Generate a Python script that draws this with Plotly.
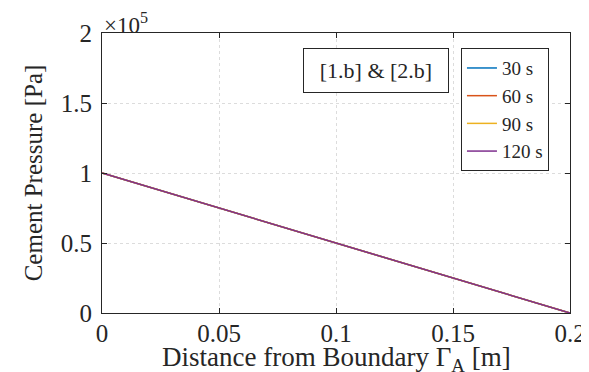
import plotly.graph_objects as go

# datos
distancia = [0.0, 0.2]
series = ["30 s", "60 s", "90 s", "120 s"]
presion = {
    "30 s": [1.0e5, 0.0],
    "60 s": [1.0e5, 0.0],
    "90 s": [1.0e5, 0.0],
    "120 s": [1.0e5, 0.0],
}
colores = ["#0072BD", "#D95319", "#EDB120", "#7E2F8E"]

x_ticks = [0, 0.05, 0.1, 0.15, 0.2]
x_ticktext = ["0", "0.05", "0.1", "0.15", "0.2"]
y_ticks = [0, 0.5e5, 1.0e5, 1.5e5, 2.0e5]
y_ticktext = ["0", "0.5", "1", "1.5", "2"]

fuente = "Liberation Serif"

fig = go.Figure()
for nombre, color in zip(series, colores):
    fig.add_trace(go.Scatter(
        x=distancia,
        y=presion[nombre],
        mode="lines",
        name=nombre,
        line=dict(color=color, width=1.5),
    ))

ejes = dict(
    showline=True, linecolor="#262626", linewidth=1.2, mirror="ticks",
    ticks="inside", ticklen=5, tickcolor="#262626",
    showgrid=True, gridcolor="#dcdcdc", griddash="dot", gridwidth=1,
    zeroline=False,
    tickfont=dict(family=fuente, size=25, color="#262626"),
)

# la pagina html tiene 8px de margen en el body, se compensa aqui
fig.update_layout(
    width=589, height=372,
    margin=dict(l=94, r=27, t=25, b=67),
    plot_bgcolor="white", paper_bgcolor="white",
    font=dict(family=fuente, color="#262626"),
    xaxis=dict(range=[0, 0.2], tickvals=x_ticks, ticktext=x_ticktext,
               ticklabelstandoff=-2, **ejes),
    yaxis=dict(range=[0, 2.0e5], tickvals=y_ticks, ticktext=y_ticktext,
               ticklabelstandoff=4,
               title=dict(text="Cement Pressure [Pa]",
                          font=dict(family=fuente, size=25), standoff=10),
               **ejes),
    legend=dict(
        x=0.767, y=0.946, xanchor="left", yanchor="top",
        bordercolor="#262626", borderwidth=1, bgcolor="white",
        font=dict(family=fuente, size=19, color="#262626"),
        itemwidth=30, tracegroupgap=0,
    ),
    showlegend=True,
)

# titulo del eje x como anotacion
fig.add_annotation(
    text="Distance from Boundary Γ<sub>A</sub> [m]", xref="paper", yref="paper",
    x=0.5, y=0, xanchor="center", yanchor="top", yshift=-27, showarrow=False,
    font=dict(family=fuente, size=27, color="#262626"),
)
fig.add_annotation(
    text="×10<sup>5</sup>", xref="paper", yref="paper", x=0, y=1,
    xanchor="left", yanchor="bottom", showarrow=False, yshift=-7,
    font=dict(family=fuente, size=23, color="#262626"),
)
fig.add_annotation(
    text="[1.b] & [2.b]", xref="paper", yref="paper", x=0.5855, y=0.866,
    xanchor="center", yanchor="middle", showarrow=False,
    font=dict(family=fuente, size=22, color="#262626"),
    bordercolor="#262626", borderwidth=1, borderpad=9, bgcolor="white",
    width=126,
)

fig.write_html("out.html")
